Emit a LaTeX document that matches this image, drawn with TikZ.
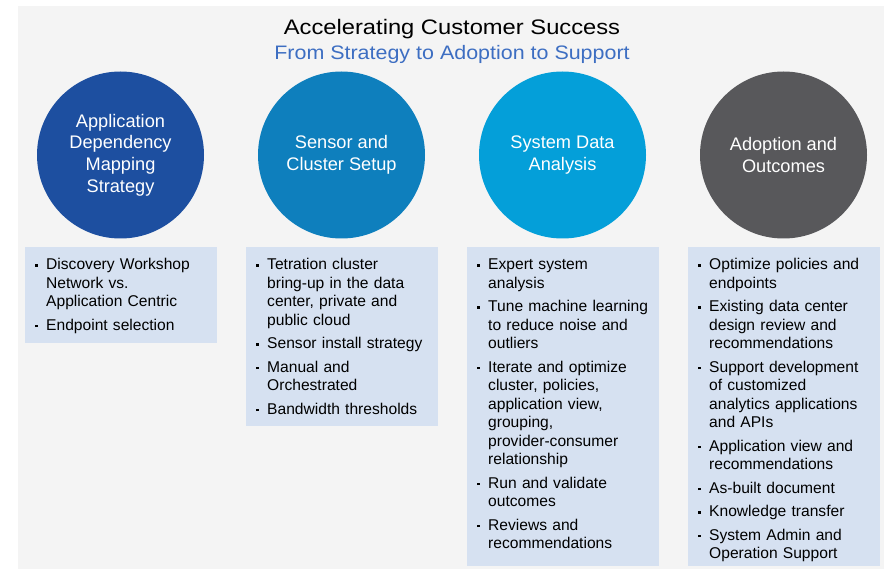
\documentclass[tikz,border=0pt]{standalone}
\usepackage{fontspec}
\setmainfont{Liberation Sans}
\newfontfamily\headfont[FakeStretch=1.13]{Liberation Sans}
\newfontfamily\subfont[FakeStretch=1.1]{Liberation Sans}
\usetikzlibrary{positioning}

\definecolor{bgGray}{HTML}{F4F4F4}
\definecolor{subBlue}{HTML}{3D6EC2}
\definecolor{admBlue}{HTML}{1D4FA0}
\definecolor{setupBlue}{HTML}{0E7FBD}
\definecolor{dataBlue}{HTML}{049FD9}
\definecolor{outGray}{HTML}{58585B}
\definecolor{cardBlue}{HTML}{D6E1F1}

% one bullet point, lines broken by hand
\newcommand{\itm}[1]{\par\hangindent=11pt\hangafter=1\noindent
  \makebox[11pt][l]{\rule[3pt]{2.3pt}{2.3pt}}\strut
  \begingroup\let\\\newline#1\endgroup\par\vskip5pt}

\begin{document}
\begin{tikzpicture}[x=1pt,y=-1pt,
  phase/.style={circle,minimum size=167pt,inner sep=0pt,text=white,
    align=center,font=\fontsize{18.2}{21.7}\selectfont},
  card/.style={fill=cardBlue,minimum width=192pt,inner sep=0pt,anchor=north west},
  items/.style={anchor=north west,inner sep=0pt,text width=180pt,align=left,
    font=\fontsize{15.6}{18.5}\selectfont}]

  \useasboundingbox (0,0) rectangle (884,569);
  \fill[bgGray] (18,6) rectangle (884,569);

  \node[anchor=base,font=\headfont\fontsize{21}{24}\selectfont] (title) at (452,34.3)
    {Accelerating Customer Success};
  \node[anchor=base,text=subBlue,font=\subfont\fontsize{19.5}{22}\selectfont] (subtitle) at (452,60)
    {From Strategy to Adoption to Support};

  \node[phase,fill=admBlue]   (adm)   at (120.5,155) {Application\\Dependency\\Mapping\\Strategy};
  \node[phase,fill=setupBlue] (setup) at (341.5,155) {Sensor and\\Cluster Setup};
  \node[phase,fill=dataBlue]  (data)  at (562.5,155) {System Data\\Analysis};
  \node[phase,fill=outGray]   (out)   at (783.5,155) {Adoption and\\Outcomes};

  \node[card,minimum height=96pt]  (admcard)   at (25,247)  {};
  \node[card,minimum height=179pt] (setupcard) at (246,247) {};
  \node[card,minimum height=319pt] (datacard)  at (467,247) {};
  \node[card,minimum height=319pt] (outcard)   at (688,247) {};

  \node[items] (admlist) at ([xshift=10pt,yshift=-4pt]admcard.north west) {%
    \itm{Discovery Workshop\\Network vs.\\Application Centric}
    \itm{Endpoint selection}};
  \node[items] (setuplist) at ([xshift=10pt,yshift=-4pt]setupcard.north west) {%
    \itm{Tetration cluster\\bring-up in the data\\center, private and\\public cloud}
    \itm{Sensor install strategy}
    \itm{Manual and\\Orchestrated}
    \itm{Bandwidth thresholds}};
  \node[items] (datalist) at ([xshift=10pt,yshift=-4pt]datacard.north west) {%
    \itm{Expert system\\analysis}
    \itm{Tune machine learning\\to reduce noise and\\outliers}
    \itm{Iterate and optimize\\cluster, policies,\\application view,\\grouping,\\provider-consumer\\relationship}
    \itm{Run and validate\\outcomes}
    \itm{Reviews and\\recommendations}};
  \node[items] (outlist) at ([xshift=10pt,yshift=-4pt]outcard.north west) {%
    \itm{Optimize policies and\\endpoints}
    \itm{Existing data center\\design review and\\recommendations}
    \itm{Support development\\of customized\\analytics applications\\and APIs}
    \itm{Application view and\\recommendations}
    \itm{As-built document}
    \itm{Knowledge transfer}
    \itm{System Admin and\\Operation Support}};
\end{tikzpicture}
\end{document}
